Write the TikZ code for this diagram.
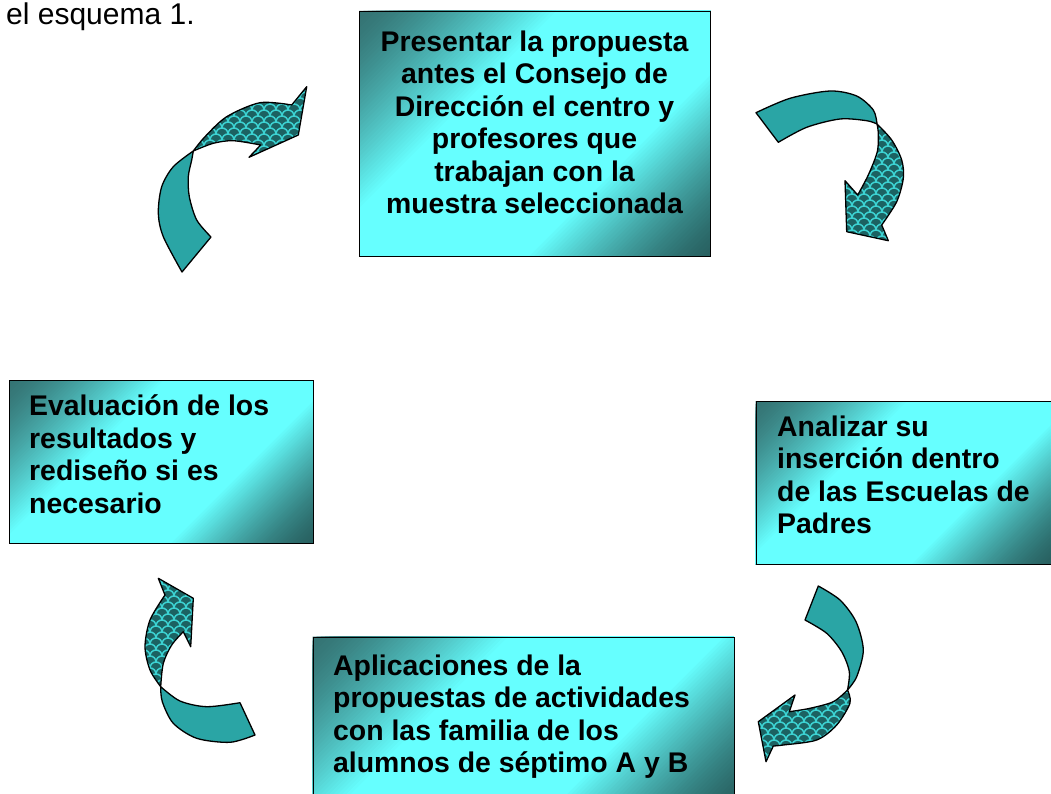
\documentclass[tikz,border=0pt]{standalone}
\usepackage{fontspec}
\setmainfont{Liberation Sans}
\usetikzlibrary{patterns}
\definecolor{tealA}{RGB}{42,165,165}
\definecolor{tealD}{RGB}{28,98,98}
\definecolor{scaleC}{RGB}{60,210,210}
\definecolor{bxdark}{RGB}{52,115,115}
\definecolor{bxdarkb}{RGB}{40,96,96}
\definecolor{bxcyan}{RGB}{102,255,255}
\pgfdeclarepatternformonly{scales}{\pgfqpoint{-0.5pt}{-0.5pt}}{\pgfqpoint{12.5pt}{12.5pt}}{\pgfqpoint{12pt}{12pt}}{%
  \pgfsetlinewidth{1.5pt}%
  \pgfpathmoveto{\pgfqpoint{0pt}{0pt}}%
  \pgfpatharc{180}{0}{6pt}%
  \pgfpathmoveto{\pgfqpoint{6pt}{6pt}}%
  \pgfpatharc{0}{90}{6pt}%
  \pgfpathmoveto{\pgfqpoint{12pt}{12pt}}%
  \pgfpatharc{90}{180}{6pt}%
  \pgfusepath{stroke}%
}
\newcommand{\gradbox}[4]{%
  \begin{scope}
    \clip (#1,#2) rectangle ({#1+#3},{#2+#4});
    \pgfmathsetmacro{\gtot}{#3+#4}
    \foreach \k in {0,...,139}{
      \pgfmathsetmacro{\gfr}{\k/139}
      \pgfmathsetmacro{\gpc}{ifthenelse(\gfr<0.33, 100*(\gfr/0.33)^1.4, ifthenelse(\gfr>0.69, 100*((1-\gfr)/0.31)^1.4, 100))}
      \pgfmathsetmacro{\gs}{\gfr*\gtot}
      \ifdim\gfr pt<0.5pt \def\gdk{bxdark}\else\def\gdk{bxdarkb}\fi
      \fill[color=bxcyan!\gpc!\gdk] ({#1+\gs},#2) -- ({#1+\gtot+10},#2) -- ({#1+\gtot+10},{#2+#4}) -- ({#1+\gs-#4},{#2+#4}) -- cycle;
    }
  \end{scope}}
\tikzset{
  stepbox/.style={draw=black, line width=1.2pt, inner sep=0pt, anchor=north west},
  boxtext/.style={font=\fontsize{28.4pt}{32.5pt}\selectfont\bfseries, inner sep=0pt, text=black},
  plainpart/.style={draw=black, line width=1.3pt, fill=tealA, line join=round},
  scalepart/.style={draw=black, line width=1.3pt, line join=round, preaction={fill=tealD}, preaction={pattern=scales, pattern color=scaleC}}
}
\begin{document}
\begin{tikzpicture}[x=1pt,y=-1pt]
\useasboundingbox (0,0) rectangle (1051,794);
\clip (0,0) rectangle (1051,794);

% intro text
\node[anchor=base west, inner sep=0pt, font=\fontsize{30pt}{34pt}\selectfont] (intro) at (6,25) {el esquema 1.};

% box gradients
\gradbox{359}{11}{351}{245}
\gradbox{9}{380}{304}{163}
\gradbox{755.5}{401}{295}{163}
\gradbox{312.5}{636.5}{421}{170}

% boxes
\node[stepbox, minimum width=351pt, minimum height=245pt] (btop) at (359,11) {};
\node[stepbox, minimum width=304pt, minimum height=163pt] (bleft) at (9,380) {};
\node[stepbox, minimum width=295pt, minimum height=163pt] (bright) at (755.5,401) {};
\node[stepbox, minimum width=421pt, minimum height=170pt] (bbot) at (312.5,636.5) {};

% texts
\node[boxtext, anchor=north, align=center] (ttop) at (534.5,30.7)
  {Presentar la propuesta\\antes el Consejo de\\Dirección el centro y\\profesores que\\trabajan con la\\muestra seleccionada};
\node[boxtext, anchor=north west, align=left] (tleft) at (29,394.8)
  {Evaluación de los\\resultados y\\rediseño si es\\necesario};
\node[boxtext, anchor=north west, align=left] (tright) at (777,415.7)
  {Analizar su\\inserción dentro\\de las Escuelas de\\Padres};
\node[boxtext, anchor=north west, align=left] (tbot) at (333,654.7)
  {Aplicaciones de la\\propuestas de actividades\\con las familia de los\\alumnos de séptimo A y B};

% arrow top-left
\draw[plainpart] (182,272) -- (211,237)
  -- plot[smooth] coordinates {(211,237) (196.7,220) (189.3,196.7) (188.3,176.7) (191.7,160) (193.3,151)}
  -- plot[smooth] coordinates {(193.3,151) (173.3,166.7) (161.7,186.7) (158.3,213.3) (163.3,236.7) (182,272)}
  -- cycle;
\draw[scalepart] plot[smooth] coordinates {(193.3,151) (205,136.7) (226.7,116.7) (260,102.7) (291.7,105)}
  -- (306.7,86.7) -- (298.3,135) -- (249,157.3) -- (260.7,145)
  -- plot[smooth] coordinates {(260.7,145) (233.3,140.7) (213.3,143.3) (193.3,151)}
  -- cycle;

% arrow top-right
\draw[plainpart] (756,112.7) -- (778.3,142.3)
  -- plot[smooth] coordinates {(778.3,142.3) (806.7,127.3) (840,119) (866.7,120.7) (877,124)}
  -- plot[smooth] coordinates {(877,124) (873.3,110) (856.7,96) (830,91) (790,98.3) (756,112.7)}
  -- cycle;
\draw[scalepart] plot[smooth] coordinates {(877,124) (891.7,140) (901.7,160) (903.3,178.3) (896.7,201.7) (881.7,225)}
  -- (888.3,240.7) -- (846.7,231.7) -- (845,180.7) -- (857.7,195)
  -- plot[smooth] coordinates {(857.7,195) (868.3,175) (877.3,151.7) (878.3,133.3) (877,124)}
  -- cycle;

% arrow bottom-right
\draw[plainpart] (818.3,586) -- (805,620)
  -- plot[smooth] coordinates {(805,620) (826.7,633.3) (841.7,651.7) (849.3,671.7) (847.5,690)}
  -- plot[smooth] coordinates {(847.5,690) (856.7,676.7) (863.3,650) (856,621.7) (840,600) (818.3,586)}
  -- cycle;
\draw[scalepart] plot[smooth] coordinates {(847.5,690) (833.3,701.7) (810,708.3) (789.3,711.7)}
  -- (795,695) -- (758.3,721.7) -- (766,761.7) -- (773.3,746)
  -- plot[smooth] coordinates {(773.3,746) (783.3,745) (816.7,740) (836.7,725) (850,703) (847.5,690)}
  -- cycle;

% arrow bottom-left
\draw[scalepart] (158.3,578.3) -- (193.3,598.3) -- (190.7,646.7) -- (183.3,631.7)
  -- plot[smooth] coordinates {(183.3,631.7) (171.7,645) (163.3,663.3) (160.7,686.7)}
  -- plot[smooth] coordinates {(160.7,686.7) (150,670) (145,646.7) (150,620) (165,595)}
  -- cycle;
\draw[plainpart] plot[smooth] coordinates {(160.7,686.7) (180,701) (206.7,706.7) (240,702.7)}
  -- (255,735)
  -- plot[smooth] coordinates {(255,735) (230,742.3) (196.7,738.3) (173.3,723.3) (162.3,701.7) (160.7,686.7)}
  -- cycle;
\end{tikzpicture}
\end{document}
